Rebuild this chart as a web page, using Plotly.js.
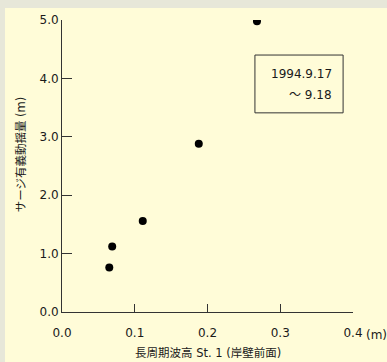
<!DOCTYPE html>
<html>
<head>
<meta charset="utf-8">
<script src="https://cdn.plot.ly/plotly-3.0.1.min.js"></script>
<style>
  html, body { margin: 0; padding: 0; background: #e7e7d9; width: 387px; height: 362px; overflow: hidden; }
  #chart { position: absolute; left: 5px; top: 8px; width: 382px; height: 354px; }
</style>
</head>
<body>
<div id="chart"></div>
<script>
// Data
const waveHeight = [0.065, 0.069, 0.111, 0.188, 0.268];   // 長周期波高 St.1 (m)
const surgeAmp   = [0.76, 1.12, 1.56, 2.88, 4.98];        // サージ有義動揺量 (m)
const xTickVals  = [0, 0.1, 0.2, 0.3, 0.4];
const xTickText  = ['0.0', '0.1', '0.2', '0.3', '0.4'];
const yTickVals  = [0, 1, 2, 3, 4, 5];
const yTickText  = ['0.0', '1.0', '2.0', '3.0', '4.0', '5.0'];
const xTitle = '長周期波高 St. 1 (岸壁前面)';
const yTitle = 'サージ有義動揺量 (m)';
const xUnit = '(m)';
const periodLabel = ['1994.9.17', '～ 9.18'];

const fontFam = 'DejaVu Sans, Noto Sans CJK JP, sans-serif';
const ink = '#1a1a1a';

const trace = {
  x: waveHeight, y: surgeAmp, type: 'scatter', mode: 'markers',
  marker: { color: '#000', size: 8 }, hoverinfo: 'skip'
};

const layout = {
  width: 382, height: 354,
  margin: { l: 57, r: 34, t: 12, b: 50 },
  paper_bgcolor: '#fffcd8', plot_bgcolor: '#fffcd8',
  showlegend: false,
  font: { family: fontFam, color: ink, size: 12 },
  xaxis: {
    range: [0, 0.4], tickvals: xTickVals, ticktext: xTickText,
    showgrid: false, zeroline: false, showline: true, linecolor: '#333', linewidth: 1,
    ticks: 'inside', ticklen: 8, tickcolor: '#333', tickwidth: 1,
    tickfont: { size: 12, color: ink }, ticklabelstandoff: 10, fixedrange: true
  },
  yaxis: {
    range: [0, 5], tickvals: yTickVals, ticktext: yTickText,
    showgrid: false, zeroline: false, showline: true, linecolor: '#333', linewidth: 1,
    ticks: 'inside', ticklen: 10, tickcolor: '#333', tickwidth: 1,
    tickfont: { size: 12, color: ink }, fixedrange: true
  },
  shapes: [
    { type: 'rect', xref: 'paper', yref: 'paper', x0: 0.663, x1: 0.966, y0: 0.682, y1: 0.880,
      line: { color: '#333', width: 1 }, fillcolor: 'rgba(0,0,0,0)' }
  ],
  annotations: [
    { text: xTitle, xref: 'paper', yref: 'paper', x: 0.5, y: 0, yshift: -41,
      showarrow: false, xanchor: 'center', yanchor: 'middle', font: { size: 11.5, color: ink } },
    { text: yTitle, xref: 'paper', yref: 'paper', x: 0, xshift: -41, y: 0.54, textangle: -90,
      showarrow: false, xanchor: 'center', yanchor: 'middle', font: { size: 11.5, color: ink } },
    { text: xUnit, xref: 'paper', yref: 'paper', x: 1, xshift: 11, y: 0, yshift: -23,
      showarrow: false, xanchor: 'left', yanchor: 'middle', font: { size: 12, color: ink } },
    { text: periodLabel[0], xref: 'paper', yref: 'paper', x: 0.935, y: 0.815,
      showarrow: false, xanchor: 'right', yanchor: 'middle', font: { size: 12, color: ink } },
    { text: periodLabel[1], xref: 'paper', yref: 'paper', x: 0.935, y: 0.744,
      showarrow: false, xanchor: 'right', yanchor: 'middle', font: { size: 12, color: ink } }
  ]
};

Plotly.newPlot('chart', [trace], layout, { displayModeBar: false, staticPlot: true });
</script>
</body>
</html>
